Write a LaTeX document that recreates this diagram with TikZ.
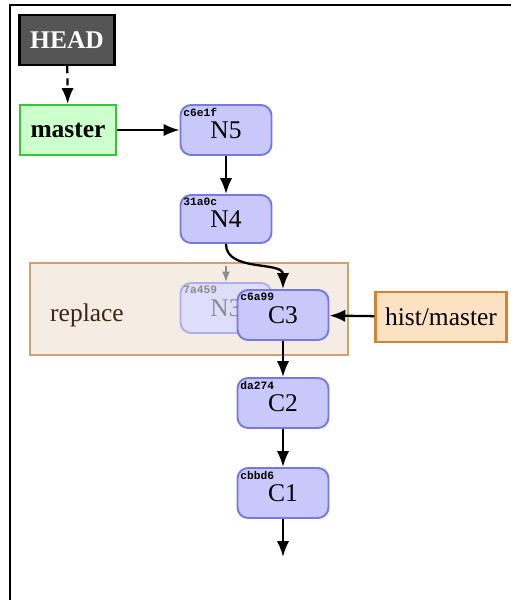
\documentclass[tikz,border=0pt]{standalone}
\usepackage{fontspec}
\setmainfont{Liberation Serif}
\newfontfamily\hashfont{Liberation Mono}
\usetikzlibrary{arrows.meta}

\definecolor{commitfill}{RGB}{200,200,250}
\definecolor{commitline}{RGB}{120,120,228}
\definecolor{ghostfill}{RGB}{222,222,250}
\definecolor{ghostline}{RGB}{175,175,238}
\definecolor{headfill}{RGB}{85,85,85}
\definecolor{masterfill}{RGB}{204,255,204}
\definecolor{masterline}{RGB}{51,200,51}
\definecolor{replfill}{RGB}{245,236,228}
\definecolor{replline}{RGB}{210,160,112}
\definecolor{histfill}{RGB}{253,225,195}
\definecolor{histline}{RGB}{210,130,50}

\begin{document}
\begin{tikzpicture}[
    x=0.02cm, y=-0.02cm,
    every node/.style={font=\fontsize{14.5}{16}\selectfont},
    commit/.style={draw=commitline, fill=commitfill, rounded corners=6pt, line width=1.1pt, minimum width=1.82cm, minimum height=1cm, text depth=-2pt},
    ghost/.style={commit, draw=ghostline, fill=ghostfill, text=black!45},
    hash/.style={font=\hashfont\bfseries\fontsize{6.4}{6.4}\selectfont, inner sep=2pt, anchor=north west, text depth=0pt},
    ref/.style={draw, line width=1.2pt, minimum height=1cm, font=\fontsize{14.5}{16}\selectfont\bfseries},
    edge/.style={draw, -{Latex[length=9pt, width=7pt]}, line width=1.3pt},
]

% Cadre
\useasboundingbox (0,0) rectangle (511,600);
\draw[line width=1.2pt] (10,600) -- (10,5) -- (511,5);

% Zone remplacée
\node[draw=replline, fill=replfill, line width=1.1pt, minimum width=6.36cm, minimum height=1.84cm] (rbox) at (189,309) {};
\node[text=black!70!brown] (rlabel) at (87,315) {replace};

% Références
\node[ref, fill=headfill, text=white, minimum width=1.9cm] (head) at (67,40) {HEAD};
\node[ref, draw=masterline, fill=masterfill, minimum width=1.92cm] (master) at (68,130) {master};
\node[ref, draw=histline, fill=histfill, minimum width=2.62cm, font=\fontsize{14.5}{16}\selectfont] (hist) at (441,317) {hist/master};

% Commits
\node[commit] (n5) at (226,130) {N5};
\node[commit, minimum height=0.96cm] (n4) at (226,219) {N4};
\node[ghost] (n3) at (226,308) {N3};
\node[commit] (c3) at (283,315) {C3};
\node[commit] (c2) at (283,403) {C2};
\node[commit] (c1) at (283,493) {C1};
\coordinate (fin) at (283,557);
\coordinate (r3) at (226,266);

% Empreintes
\node[hash] (h5) at (n5.north west) {c6e1f};
\node[hash] (h4) at (n4.north west) {31a0c};
\node[hash, text=black!45] (h3) at (n3.north west) {7a459};
\node[hash] (hc3) at (c3.north west) {c6a99};
\node[hash] (hc2) at (c2.north west) {da274};
\node[hash] (hc1) at (c1.north west) {cbbd6};

% Liens
\draw[edge, dash pattern=on 4pt off 3pt] (head) -- (master);
\draw[edge] (master) -- (n5);
\draw[edge] (n5) -- (n4);
\draw[edge, draw=black!45, line width=0.8pt, -{Latex[length=6pt, width=4.5pt]}] (r3) -- (n3);
\draw[edge] (n4.south) to[out=-90, in=90] (c3.north);
\draw[edge] (hist) -- (c3);
\draw[edge] (c3) -- (c2);
\draw[edge] (c2) -- (c1);
\draw[edge] (c1) -- (fin);

\end{tikzpicture}
\end{document}
